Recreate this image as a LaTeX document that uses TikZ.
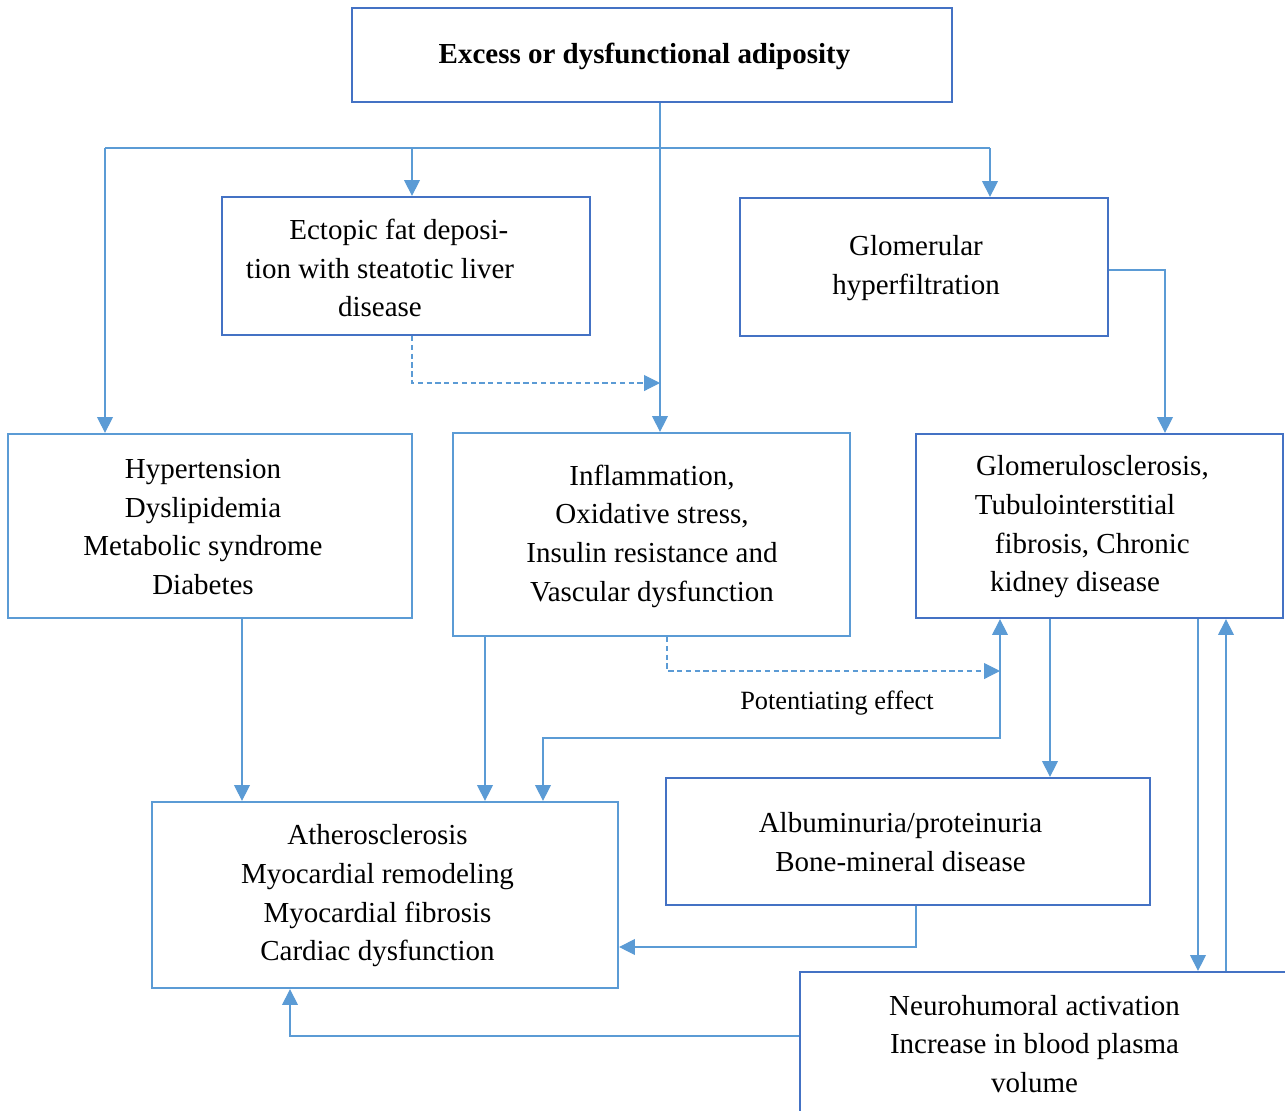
\documentclass[tikz,border=0pt]{standalone}
\usepackage{fontspec}
\setmainfont{Liberation Serif}
\usetikzlibrary{arrows.meta}
\definecolor{boxblue}{HTML}{4472C4}
\definecolor{skyblue}{HTML}{5B9BD5}

\begin{document}
\begin{tikzpicture}[x=0.02cm, y=-0.02cm,
  box/.style={draw=boxblue, line width=1.3pt, inner sep=0pt},
  lightbox/.style={box, draw=skyblue},
  txt/.style={align=center, inner sep=0pt, font=\fontsize{16.5}{22}\selectfont},
  link/.style={skyblue, line width=0.6pt, -{Triangle[length=9pt,width=9pt]}},
  bilink/.style={link, {Triangle[length=9pt,width=9pt]}-{Triangle[length=9pt,width=9pt]}},
  potlink/.style={link, dashed, dash pattern=on 3pt off 2pt}]
  \useasboundingbox (0,0) rectangle (1285,1110);

  % ── Boxes ──
  \node[box, minimum width=12cm, minimum height=1.88cm] (top) at (652,55) {};
  \node[box, minimum width=7.36cm, minimum height=2.76cm] (ecto) at (406,266) {};
  \node[box, minimum width=7.36cm, minimum height=2.76cm] (glom) at (924,267) {};
  \node[lightbox, minimum width=8.08cm, minimum height=3.68cm] (risk) at (210,526) {};
  \node[lightbox, minimum width=7.94cm, minimum height=4.06cm] (infl) at (651.5,534.5) {};
  \node[box, minimum width=7.34cm, minimum height=3.68cm] (ckd) at (1099.5,526) {};
  \node[lightbox, minimum width=9.32cm, minimum height=3.72cm] (card) at (385,895) {};
  \node[box, minimum width=9.68cm, minimum height=2.54cm] (alb) at (908,841.5) {};
  \node[box, minimum width=9.8cm, minimum height=2.84cm] (neuro) at (1045,1043) {};

  % ── Box texts ──
  \node[txt] (topT) at (644.5,56) {\bfseries Excess or dysfunctional adiposity};
  \node[txt] (ectoT) at (380,268)
    {\hspace*{21.5pt}Ectopic fat deposi-\\tion with steatotic liver\\disease};
  \node[txt] (glomT) at (916,268) {Glomerular\\hyperfiltration};
  \node[txt] (riskT) at (203,527) {Hypertension\\Dyslipidemia\\Metabolic syndrome\\Diabetes};
  \node[txt] (inflT) at (652,536)
    {Inflammation,\\Oxidative stress,\\Insulin resistance and\\Vascular dysfunction};
  \node[txt] (ckdT) at (1075,527)
    {\hspace*{19.8pt}Glomerulosclerosis,\\Tubulointerstitial\\\hspace*{19.8pt}fibrosis, Chronic\\kidney disease};
  \node[txt] (cardT) at (377.5,896)
    {Atherosclerosis\\Myocardial remodeling\\Myocardial fibrosis\\Cardiac dysfunction};
  \node[txt] (albT) at (900.5,842) {Albuminuria/proteinuria\\Bone-mineral disease};
  \node[txt] (neuroT) at (1034.5,1044) {Neurohumoral activation\\Increase in blood plasma\\volume};

  % ── Bus from the top box ──
  \coordinate (trunk) at (660,148);
  \coordinate (busL) at (105,148);
  \coordinate (busE) at (412,148);
  \coordinate (busR) at (990,148);
  \draw[link] (top.south -| trunk) -- (infl.north -| trunk);
  \draw[skyblue, line width=0.6pt] (busL) -- (busR);
  \draw[link] (busL) -- (risk.north -| busL);
  \draw[link] (busE) -- (ecto.north -| busE);
  \draw[link] (busR) -- (glom.north -| busR);

  % ── Ectopic fat into the middle column (dashed) ──
  \coordinate (dashE) at (412,383);
  \draw[potlink] (ecto.south -| dashE) |- (trunk |- dashE);

  % ── Kidney side ──
  \coordinate (gk) at (1165,270);
  \draw[link] (glom.east |- gk) -| (ckd.north -| gk);
  \coordinate (ca) at (1050,700);
  \draw[link] (ckd.south -| ca) -- (alb.north -| ca);
  \coordinate (down) at (1198,800);
  \coordinate (up) at (1226,800);
  \draw[link] (ckd.south -| down) -- (neuro.north -| down);
  \draw[link] (neuro.north -| up) -- (ckd.south -| up);

  % ── Into the cardiac box ──
  \coordinate (rc) at (242,700);
  \coordinate (ic) at (485,700);
  \draw[link] (risk.south -| rc) -- (card.north -| rc);
  \draw[link] (infl.south -| ic) -- (card.north -| ic);
  \coordinate (ab) at (916,947);
  \draw[link] (alb.south -| ab) |- (card.east |- ab);
  \coordinate (nc) at (290,1036);
  \draw[link] (neuro.west |- nc) -| (card.south -| nc);

  % ── Potentiating effect ──
  \coordinate (potL) at (667,671);
  \coordinate (loop) at (1000,738);
  \coordinate (loopL) at (543,738);
  \draw[potlink] (infl.south -| potL) |- (loop |- potL);
  \draw[bilink] (card.north -| loopL) |- (loop) -- (ckd.south -| loop);
  \node[font=\fontsize{15}{18}\selectfont] (pot) at (837,703) {Potentiating effect};

\end{tikzpicture}
\end{document}
